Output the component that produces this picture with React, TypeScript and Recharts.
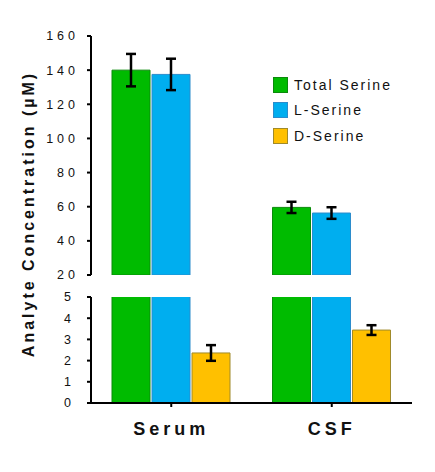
import React from 'react';
import { BarChart, Bar, XAxis, YAxis, ErrorBar, Legend, Label } from 'recharts';

// values (µM)
const groups = ['Serum', 'CSF'];
const totalSerine = [140, 59.6];
const totalErr = [9.5, 3.3];
const lSerine = [137.5, 56.3];
const lErr = [9.2, 3.4];
const dSerine = [2.36, 3.44];
const dErr = [0.37, 0.23];

const upperTicks = [20, 40, 60, 80, 100, 120, 140, 160];
const lowerTicks = [0, 1, 2, 3, 4, 5];

const series = [
  { key: 'total', name: 'Total Serine', fill: '#00bb00', stroke: '#0b8a0b' },
  { key: 'l', name: 'L-Serine', fill: '#00aeef', stroke: '#2b8ccc' },
  { key: 'd', name: 'D-Serine', fill: '#ffc000', stroke: '#a08a2a' },
];

// upper panel (broken axis, 20-160): D-Serine is off the scale there
const upperData = groups.map((g, i) => ({
  name: g,
  total: totalSerine[i],
  totalErr: totalErr[i],
  l: lSerine[i],
  lErr: lErr[i],
  d: null,
}));

// lower panel (0-5): Total / L bars run past the top and get clipped
const lowerData = groups.map((g, i) => ({
  name: g,
  total: totalSerine[i],
  l: lSerine[i],
  d: dSerine[i],
  dErr: dErr[i],
}));

const FONT = 'Arial, "Liberation Sans", sans-serif';
const axisLine = { stroke: '#000', strokeWidth: 2 };

const renderLegend = () => (
  <div style={{ fontFamily: FONT }}>
    {series.map(s => (
      <div key={s.key} style={{ display: 'flex', alignItems: 'center', height: 25.5 }}>
        <span
          style={{
            display: 'inline-block',
            width: 13,
            height: 14,
            background: s.fill,
            border: `1px solid ${s.stroke}`,
            marginRight: 6,
          }}
        />
        <span style={{ fontSize: 14, letterSpacing: 2, color: '#111' }}>{s.name}</span>
      </div>
    ))}
  </div>
);

export default function App() {
  return (
    <div style={{ position: 'absolute', left: 0, top: 0, width: 435, height: 472, background: '#fff' }}>
      <div style={{ position: 'absolute', left: 0, top: 0 }}>
        <BarChart
          width={435}
          height={472}
          data={upperData}
          margin={{ top: 36, right: 23, bottom: 197, left: 0 }}
          barSize={38}
          barGap={2}
        >
          <XAxis dataKey="name" hide />
          <YAxis
            domain={[20, 160]}
            ticks={upperTicks}
            allowDataOverflow
            width={91}
            tickSize={4}
            tickMargin={8}
            axisLine={axisLine}
            tickLine={axisLine}
            tick={{ fill: '#111', fontSize: 12.5, fontFamily: FONT, letterSpacing: 4 }}
          >
            <Label
              content={() => (
                <text
                  x={28}
                  y={214}
                  transform="rotate(-90 28 214)"
                  textAnchor="middle"
                  dominantBaseline="central"
                  fontFamily={FONT}
                  fontWeight="bold"
                  fontSize={16}
                  letterSpacing={3}
                  fill="#111"
                >
                  Analyte Concentration (µM)
                </text>
              )}
            />
          </YAxis>
          <Legend
            layout="horizontal"
            verticalAlign="middle"
            align="center"
            content={renderLegend}
            wrapperStyle={{ top: 72, left: 273, width: 140 }}
          />
          <Bar dataKey="total" name="Total Serine" fill={series[0].fill} stroke={series[0].stroke} isAnimationActive={false}>
            <ErrorBar dataKey="totalErr" width={5} stroke="#000" strokeWidth={2.5} />
          </Bar>
          <Bar dataKey="l" name="L-Serine" fill={series[1].fill} stroke={series[1].stroke} isAnimationActive={false}>
            <ErrorBar dataKey="lErr" width={5} stroke="#000" strokeWidth={2.5} />
          </Bar>
          <Bar dataKey="d" name="D-Serine" fill={series[2].fill} stroke={series[2].stroke} isAnimationActive={false} />
        </BarChart>
      </div>
      <div style={{ position: 'absolute', left: 0, top: 280 }}>
        <BarChart
          width={435}
          height={192}
          data={lowerData}
          margin={{ top: 17, right: 23, bottom: 8, left: 0 }}
          barSize={38}
          barGap={2}
        >
          <XAxis
            dataKey="name"
            height={61}
            tickSize={4}
            tickMargin={15}
            axisLine={axisLine}
            tickLine={axisLine}
            tick={{ fill: '#111', fontSize: 18, fontWeight: 'bold', fontFamily: FONT, letterSpacing: 4 }}
          />
          <YAxis
            domain={[0, 5]}
            ticks={lowerTicks}
            allowDataOverflow
            width={91}
            tickSize={4}
            tickMargin={12}
            axisLine={axisLine}
            tickLine={axisLine}
            tick={{ fill: '#111', fontSize: 12.5, fontFamily: FONT, letterSpacing: 4 }}
          />
          <Bar dataKey="total" fill={series[0].fill} stroke={series[0].stroke} isAnimationActive={false} />
          <Bar dataKey="l" fill={series[1].fill} stroke={series[1].stroke} isAnimationActive={false} />
          <Bar dataKey="d" fill={series[2].fill} stroke={series[2].stroke} isAnimationActive={false}>
            <ErrorBar dataKey="dErr" width={5} stroke="#000" strokeWidth={2.5} />
          </Bar>
        </BarChart>
      </div>
    </div>
  );
}
